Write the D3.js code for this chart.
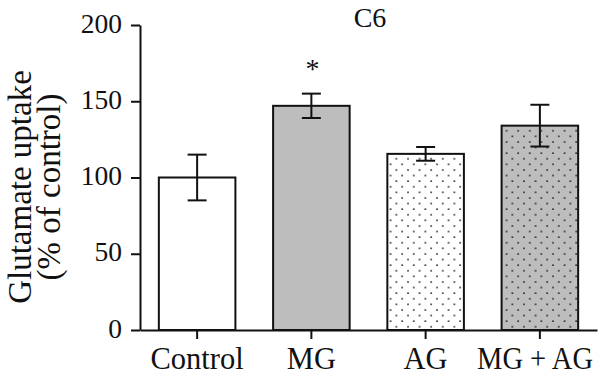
<!DOCTYPE html>
<html>
<head>
<meta charset="utf-8">
<script src="https://cdn.jsdelivr.net/npm/d3@7"></script>
<style>
  html, body { margin: 0; padding: 0; background: #fff; }
  svg { display: block; }
  text { font-family: "Liberation Serif", "DejaVu Serif", serif; fill: #111; }
</style>
</head>
<body>
<svg id="chart" width="600" height="382"></svg>
<script>
// ---- data ----
const categories = ["Control", "MG", "AG", "MG + AG"];
const means      = [100, 147, 115.5, 134];
const errors     = [15, 8, 4.5, 13.7];
const marks      = ["", "*", "", ""];
const yTicks     = [0, 50, 100, 150, 200];
const title      = "C6";
const yLabel     = ["Glutamate uptake", "(% of control)"];

// ---- styles per bar ----
const fills = ["#ffffff", "#bdbdbd", "url(#dotsWhite)", "url(#dotsGray)"];

const svg = d3.select("#chart");

// patterns
const defs = svg.append("defs");
function dotPattern(id, bg) {
  const p = defs.append("pattern")
    .attr("id", id).attr("patternUnits", "userSpaceOnUse")
    .attr("width", 11.6).attr("height", 11.2);
  p.append("rect").attr("width", 11.6).attr("height", 11.2).attr("fill", bg);
  [[2, 2], [7.8, 7.6]].forEach(([cx, cy]) =>
    p.append("rect").attr("x", cx - 0.75).attr("y", cy - 0.75)
      .attr("width", 1.5).attr("height", 1.5).attr("fill", "#111"));
}
dotPattern("dotsWhite", "#ffffff");
dotPattern("dotsGray", "#bdbdbd");

const x = d3.scaleBand().domain(categories).range([140, 597])
  .paddingInner(0.33).paddingOuter(0.165);
const y = d3.scaleLinear().domain([0, 200]).range([330, 25]);

// bars
svg.append("g").selectAll("rect").data(categories).join("rect")
  .attr("x", d => x(d))
  .attr("y", (d, i) => y(means[i]))
  .attr("width", x.bandwidth())
  .attr("height", (d, i) => y(0) - y(means[i]))
  .attr("fill", (d, i) => fills[i])
  .attr("stroke", "#111").attr("stroke-width", 2);

// error bars
const eg = svg.append("g").attr("stroke", "#111").attr("stroke-width", 2);
categories.forEach((c, i) => {
  const cx = x(c) + x.bandwidth() / 2;
  const top = y(means[i] + errors[i]), bot = y(means[i] - errors[i]);
  eg.append("line").attr("x1", cx).attr("x2", cx).attr("y1", top).attr("y2", bot);
  eg.append("line").attr("x1", cx - 9.5).attr("x2", cx + 9.5).attr("y1", top).attr("y2", top);
  eg.append("line").attr("x1", cx - 9.5).attr("x2", cx + 9.5).attr("y1", bot).attr("y2", bot);
});

// significance marks
svg.append("g").selectAll("text").data(categories).join("text")
  .attr("x", d => x(d) + x.bandwidth() / 2 + 1)
  .attr("y", (d, i) => y(means[i] + errors[i]) - 16)
  .attr("text-anchor", "middle")
  .attr("font-size", 28)
  .text((d, i) => marks[i]);

// axes
const yAxis = svg.append("g").attr("transform", "translate(140,0)")
  .call(d3.axisLeft(y).tickValues(yTicks).tickSize(9).tickSizeOuter(0).tickPadding(9));
yAxis.selectAll("text").attr("font-size", 27.5).attr("dy", "0.26em")
  .style("font-family", "'Liberation Serif', serif").attr("fill", "#111");

const xAxis = svg.append("g").attr("transform", "translate(0,330)")
  .call(d3.axisBottom(x).tickSize(9).tickSizeOuter(0).tickPadding(8.2));
xAxis.selectAll("text").attr("font-size", 30.5)
  .style("font-family", "'Liberation Serif', serif").attr("fill", "#111");
// keep labels inside the picture
const rightLimit = 593;
xAxis.selectAll(".tick").each(function () {
  const t = d3.select(this).select("text");
  const tx = +this.getAttribute("transform").match(/translate\(([\d.]+)/)[1];
  const w = t.node().getComputedTextLength();
  if (tx + w / 2 > rightLimit) {
    const nw = Math.min(w, 116);
    t.attr("textLength", nw).attr("lengthAdjust", "spacingAndGlyphs")
     .attr("x", rightLimit - nw / 2 - tx);
  }
});

[yAxis, xAxis].forEach(a => {
  a.selectAll("path, line").attr("stroke", "#111").attr("stroke-width", 2);
  a.attr("font-size", null);
});

// title
svg.append("text").attr("x", 370).attr("y", 26.5)
  .attr("text-anchor", "middle").attr("font-size", 28).text(title);

// y label
const yl = svg.append("text").attr("transform", "translate(0,187) rotate(-90)")
  .attr("text-anchor", "middle").attr("font-size", 33);
yl.append("tspan").attr("x", 0).attr("y", 31).text(yLabel[0]);
yl.append("tspan").attr("x", 0).attr("y", 60).text(yLabel[1]);
</script>
</body>
</html>
